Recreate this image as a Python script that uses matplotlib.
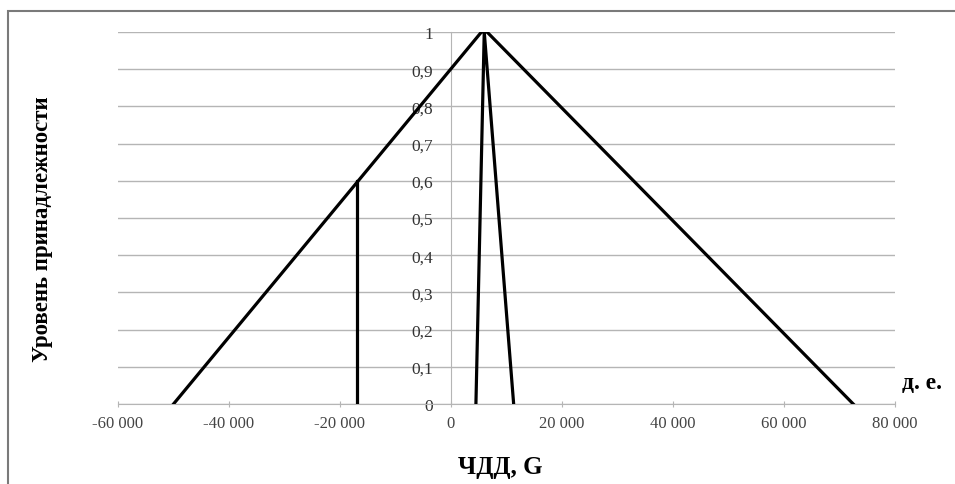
import matplotlib
matplotlib.use("Agg")

import matplotlib.pyplot as plt
from matplotlib.patches import Rectangle
from matplotlib.ticker import FuncFormatter


# big triangle (membership function of NPV)
big_x = [-50000, 5500, 6500, 72500]
big_y = [0, 1, 1, 0]

# narrow triangle
small_x = [4500, 6000, 11300]
small_y = [0, 1, 0]

# vertical cut line
cut_x = [-17000, -17000]
cut_y = [0, 0.6]

x_ticks = [-60000, -40000, -20000, 0, 20000, 40000, 60000, 80000]
y_ticks = [0, 0.1, 0.2, 0.3, 0.4, 0.5, 0.6, 0.7, 0.8, 0.9, 1.0]

plt.rcParams["font.family"] = ["Liberation Serif", "DejaVu Serif"]

fig = plt.figure(figsize=(9.55, 4.85), dpi=100)
ax = fig.add_axes([0.1236, 0.165, 0.8134, 0.767])

for y in y_ticks:
    ax.axhline(y, color="#b5b5b5", linewidth=1.0, zorder=1)

ax.plot(big_x, big_y, color="black", linewidth=2.3, zorder=3, solid_joinstyle="miter")
ax.plot(small_x, small_y, color="black", linewidth=2.3, zorder=3, solid_joinstyle="miter")
ax.plot(cut_x, cut_y, color="black", linewidth=2.3, zorder=3)

ax.set_xlim(-60000, 80000)
ax.set_ylim(0, 1)

for side in ("top", "right"):
    ax.spines[side].set_visible(False)
ax.spines["left"].set_position(("data", 0))
ax.spines["left"].set_color("#b5b5b5")
ax.spines["bottom"].set_color("#b5b5b5")

ax.set_xticks(x_ticks)
ax.set_yticks(y_ticks)
ax.xaxis.set_major_formatter(FuncFormatter(lambda v, p: f"{int(v):,}".replace(",", " ")))
ax.yaxis.set_major_formatter(FuncFormatter(lambda v, p: f"{v:g}".replace(".", ",")))
ax.tick_params(axis="x", colors="#b5b5b5", labelcolor="#444444", labelsize=12,
               length=4, direction="inout", pad=6)
ax.tick_params(axis="y", colors="#b5b5b5", labelcolor="#333333", labelsize=12.5,
               length=0, pad=13)

fig.text(0.045, 0.527, "Уровень принадлежности", rotation=90, ha="center", va="center",
         fontsize=16.5, fontweight="bold")
fig.text(0.524, 0.037, "ЧДД, G", ha="center", va="center", fontsize=18, fontweight="bold")
fig.text(0.965, 0.21, "д. е.", ha="center", va="center", fontsize=17, fontweight="bold")

# grey frame around the picture
fig.patches.append(Rectangle((0.008, -0.01), 1.2, 0.985, transform=fig.transFigure,
                             fill=False, edgecolor="#7a7a7a", linewidth=1.5))

fig.savefig("out.png", dpi=100)
